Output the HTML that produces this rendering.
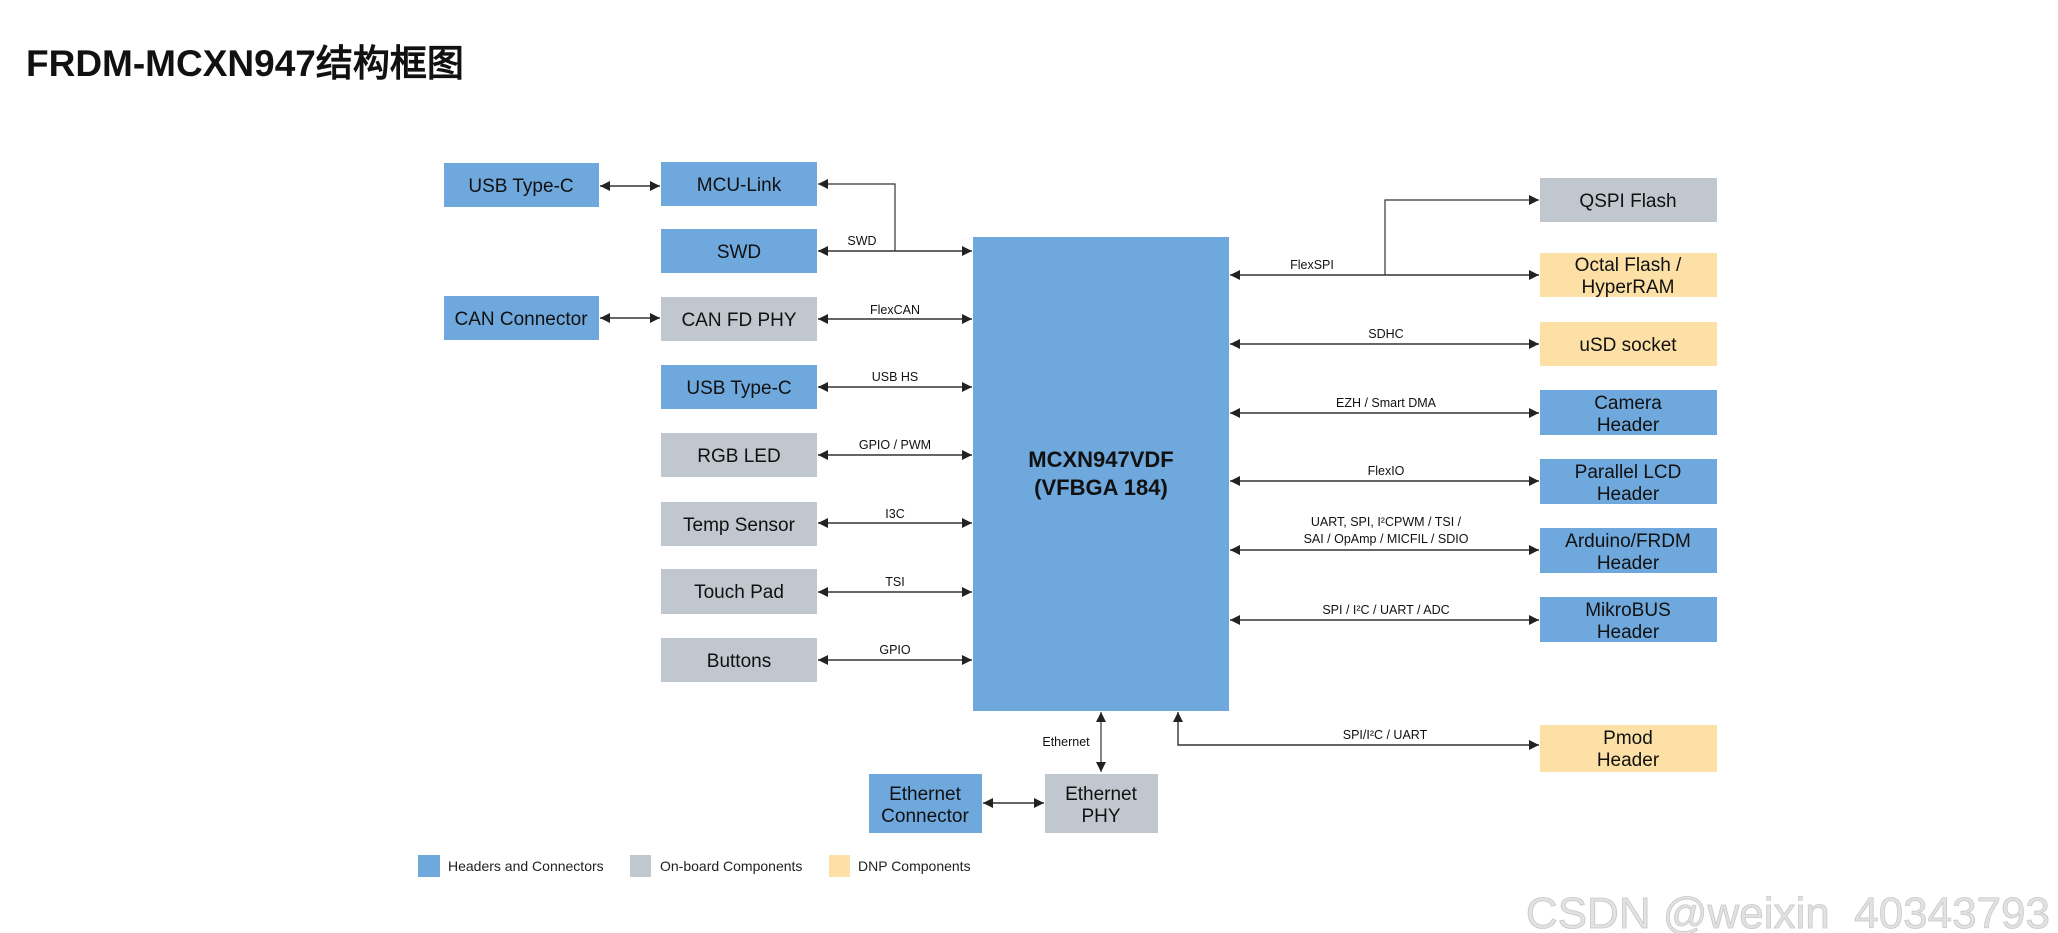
<!DOCTYPE html>
<html><head><meta charset="utf-8"><style>
html,body{margin:0;padding:0;background:#fff;}
svg{display:block;}
text{font-family:"Liberation Sans",Arial,sans-serif;}
</style></head><body>
<svg width="2058" height="933" viewBox="0 0 2058 933" xmlns="http://www.w3.org/2000/svg">
<defs>
<marker id="a" viewBox="0 0 10 10" refX="10" refY="5" markerWidth="10" markerHeight="10" markerUnits="userSpaceOnUse" orient="auto-start-reverse">
<path d="M0,0 L10,5 L0,10 z" fill="#222"/></marker>
</defs>
<text x="26" y="76" font-size="37" font-weight="bold" font-family="'Liberation Sans','Noto Sans CJK SC',sans-serif" fill="#111">FRDM-MCXN947结构框图</text>

<g font-size="19" text-anchor="middle" fill="#111">
<!-- left boxes -->
<rect x="444" y="163" width="155" height="44" fill="#6fa8dc"/><text x="521" y="192">USB Type-C</text>
<rect x="661" y="162" width="156" height="44" fill="#6fa8dc"/><text x="739" y="191">MCU-Link</text>
<rect x="661" y="229" width="156" height="44" fill="#6fa8dc"/><text x="739" y="258">SWD</text>
<rect x="444" y="296" width="155" height="44" fill="#6fa8dc"/><text x="521" y="325">CAN Connector</text>
<rect x="661" y="297" width="156" height="44" fill="#c0c7cf"/><text x="739" y="326">CAN FD PHY</text>
<rect x="661" y="365" width="156" height="44" fill="#6fa8dc"/><text x="739" y="394">USB Type-C</text>
<rect x="661" y="433" width="156" height="44" fill="#c0c7cf"/><text x="739" y="462">RGB LED</text>
<rect x="661" y="502" width="156" height="44" fill="#c0c7cf"/><text x="739" y="531">Temp Sensor</text>
<rect x="661" y="569" width="156" height="45" fill="#c0c7cf"/><text x="739" y="598">Touch Pad</text>
<rect x="661" y="638" width="156" height="44" fill="#c0c7cf"/><text x="739" y="667">Buttons</text>
<!-- MCU -->
<rect x="973" y="237" width="256" height="474" fill="#6fa8dc"/>
<text x="1101" y="467" font-size="22" font-weight="bold">MCXN947VDF</text>
<text x="1101" y="495" font-size="22" font-weight="bold">(VFBGA 184)</text>
<!-- right boxes -->
<rect x="1540" y="178" width="177" height="44" fill="#c0c7cf"/><text x="1628" y="207">QSPI Flash</text>
<rect x="1540" y="253" width="177" height="44" fill="#fde0a6"/><text x="1628" y="271">Octal Flash /</text><text x="1628" y="293">HyperRAM</text>
<rect x="1540" y="322" width="177" height="44" fill="#fde0a6"/><text x="1628" y="351">uSD socket</text>
<rect x="1540" y="390" width="177" height="45" fill="#6fa8dc"/><text x="1628" y="409">Camera</text><text x="1628" y="431">Header</text>
<rect x="1540" y="459" width="177" height="45" fill="#6fa8dc"/><text x="1628" y="478">Parallel LCD</text><text x="1628" y="500">Header</text>
<rect x="1540" y="528" width="177" height="45" fill="#6fa8dc"/><text x="1628" y="547">Arduino/FRDM</text><text x="1628" y="569">Header</text>
<rect x="1540" y="597" width="177" height="45" fill="#6fa8dc"/><text x="1628" y="616">MikroBUS</text><text x="1628" y="638">Header</text>
<rect x="1540" y="725" width="177" height="47" fill="#fde0a6"/><text x="1628" y="744">Pmod</text><text x="1628" y="766">Header</text>
<!-- ethernet -->
<rect x="869" y="774" width="113" height="59" fill="#6fa8dc"/><text x="925" y="800">Ethernet</text><text x="925" y="822">Connector</text>
<rect x="1045" y="774" width="113" height="59" fill="#c0c7cf"/><text x="1101" y="800">Ethernet</text><text x="1101" y="822">PHY</text>
</g>

<g stroke="#333" stroke-width="1.6" fill="none">
<line x1="600" y1="186" x2="660" y2="186" marker-start="url(#a)" marker-end="url(#a)"/>
<line x1="600" y1="318" x2="660" y2="318" marker-start="url(#a)" marker-end="url(#a)"/>
<line x1="818" y1="251" x2="972" y2="251" marker-start="url(#a)" marker-end="url(#a)"/>
<polyline points="818,184 895,184 895,251" marker-start="url(#a)" stroke-width="1.2"/>
<line x1="818" y1="319" x2="972" y2="319" marker-start="url(#a)" marker-end="url(#a)"/>
<line x1="818" y1="387" x2="972" y2="387" marker-start="url(#a)" marker-end="url(#a)"/>
<line x1="818" y1="455" x2="972" y2="455" marker-start="url(#a)" marker-end="url(#a)"/>
<line x1="818" y1="523" x2="972" y2="523" marker-start="url(#a)" marker-end="url(#a)"/>
<line x1="818" y1="592" x2="972" y2="592" marker-start="url(#a)" marker-end="url(#a)"/>
<line x1="818" y1="660" x2="972" y2="660" marker-start="url(#a)" marker-end="url(#a)"/>

<line x1="1230" y1="275" x2="1539" y2="275" marker-start="url(#a)" marker-end="url(#a)"/>
<polyline points="1385,275 1385,200 1539,200" marker-end="url(#a)" stroke-width="1.2"/>
<line x1="1230" y1="344" x2="1539" y2="344" marker-start="url(#a)" marker-end="url(#a)"/>
<line x1="1230" y1="413" x2="1539" y2="413" marker-start="url(#a)" marker-end="url(#a)"/>
<line x1="1230" y1="481" x2="1539" y2="481" marker-start="url(#a)" marker-end="url(#a)"/>
<line x1="1230" y1="550" x2="1539" y2="550" marker-start="url(#a)" marker-end="url(#a)"/>
<line x1="1230" y1="620" x2="1539" y2="620" marker-start="url(#a)" marker-end="url(#a)"/>
<polyline points="1178,712 1178,745 1539,745" marker-start="url(#a)" marker-end="url(#a)" stroke-width="1.4"/>
<line x1="1101" y1="712" x2="1101" y2="772" marker-start="url(#a)" marker-end="url(#a)" stroke-width="1.2"/>
<line x1="983" y1="803" x2="1044" y2="803" marker-start="url(#a)" marker-end="url(#a)"/>
</g>

<g font-size="12.5" text-anchor="middle" fill="#111">
<text x="862" y="245">SWD</text>
<text x="895" y="314">FlexCAN</text>
<text x="895" y="381">USB HS</text>
<text x="895" y="449">GPIO / PWM</text>
<text x="895" y="518">I3C</text>
<text x="895" y="586">TSI</text>
<text x="895" y="654">GPIO</text>
<text x="1312" y="269">FlexSPI</text>
<text x="1386" y="338">SDHC</text>
<text x="1386" y="407">EZH / Smart DMA</text>
<text x="1386" y="475">FlexIO</text>
<text x="1386" y="526">UART, SPI, I²CPWM / TSI /</text>
<text x="1386" y="543">SAI / OpAmp / MICFIL / SDIO</text>
<text x="1386" y="614">SPI / I²C / UART / ADC</text>
<text x="1385" y="739">SPI/I²C / UART</text>
<text x="1066" y="746">Ethernet</text>
</g>

<g font-size="14" fill="#222">
<rect x="418" y="855" width="22" height="22" fill="#6fa8dc"/><text x="448" y="871">Headers and Connectors</text>
<rect x="630" y="855" width="21" height="22" fill="#c0c7cf"/><text x="660" y="871">On-board Components</text>
<rect x="829" y="855" width="21" height="22" fill="#fde0a6"/><text x="858" y="871">DNP Components</text>
</g>

<text x="2050" y="928" text-anchor="end" font-size="44" fill="#e2e2e2" stroke="#c8c8c8" stroke-width="0.8">CSDN @weixin_40343793</text>
</svg>
</body></html>
